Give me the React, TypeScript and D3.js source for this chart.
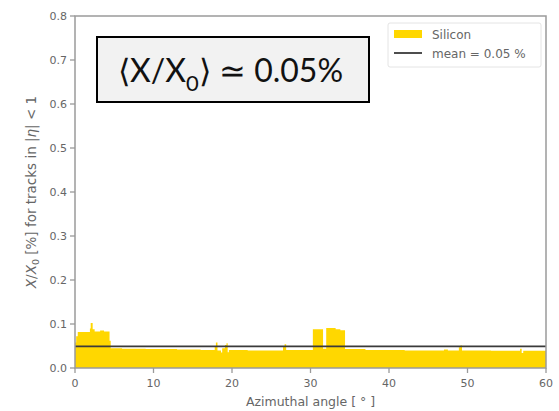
import React from "react";
import * as d3 from "d3";

// Step histogram: each value holds from its start angle to the next start angle (last ends at 60)
const binStarts = [
  0.0, 0.15, 0.35, 1.9, 2.0, 2.25, 2.5, 3.2, 3.7, 4.4, 4.55, 6.0, 9.0, 13.0, 16.0,
  17.8, 17.95, 18.15, 18.6, 18.75, 19.1, 19.3, 19.45, 19.6, 22.0, 26.5, 26.7, 26.9,
  30.3, 31.6, 32.0, 33.2, 33.8, 34.4, 37.0, 42.0, 47.0, 47.5, 48.9, 49.1, 49.3,
  53.0, 56.7, 56.9, 57.1,
];
const siliconValues = [
  0.058, 0.072, 0.082, 0.09, 0.102, 0.088, 0.083, 0.085, 0.083, 0.062, 0.045, 0.044, 0.043, 0.042, 0.041,
  0.048, 0.058, 0.04, 0.035, 0.045, 0.052, 0.056, 0.036, 0.041, 0.04, 0.048, 0.054, 0.041,
  0.088, 0.044, 0.091, 0.088, 0.086, 0.043, 0.041, 0.04, 0.042, 0.04, 0.047, 0.051, 0.04,
  0.039, 0.044, 0.034, 0.039,
];
const xMax = 60;
const meanValue = 0.049;
const xTicks = [0, 10, 20, 30, 40, 50, 60];
const yTicks = [0.0, 0.1, 0.2, 0.3, 0.4, 0.5, 0.6, 0.7, 0.8];

export default function App() {
  const W = 559, H = 411;
  const left = 75, right = 546, top = 16, bottom = 368;
  const x = d3.scaleLinear().domain([0, xMax]).range([left, right]);
  const y = d3.scaleLinear().domain([0, 0.8]).range([bottom, top]);

  const pts: [number, number][] = binStarts.map((s, i) => [s, siliconValues[i]]);
  pts.push([xMax, siliconValues[siliconValues.length - 1]]);
  const area = d3
    .area<[number, number]>()
    .x((d) => x(d[0]))
    .y0(y(0))
    .y1((d) => y(d[1]))
    .curve(d3.curveStepAfter);

  const tickColor = "#666";
  const spine = "#9a9a9a";
  const font = "DejaVu Sans, sans-serif";

  return (
    <svg width={W} height={H} style={{ position: "absolute", left: 0, top: 0, background: "#fff" }}>
      <rect x={0} y={0} width={W} height={H} fill="#fff" />
      <path d={area(pts) || ""} fill="#FFD700" />
      <line x1={x(0)} x2={x(xMax)} y1={y(meanValue)} y2={y(meanValue)} stroke="#3a3a3a" strokeWidth={1.8} />
      {/* spines */}
      <rect x={left} y={top} width={right - left} height={bottom - top} fill="none" stroke={spine} strokeWidth={1.5} />
      {/* y ticks */}
      {yTicks.map((t) => (
        <g key={"y" + t}>
          <line x1={left - 5} x2={left} y1={y(t)} y2={y(t)} stroke={spine} strokeWidth={1.3} />
          <text x={left - 8} y={y(t) + 4} textAnchor="end" fontFamily={font} fontSize={11} fill={tickColor}>
            {t.toFixed(1)}
          </text>
        </g>
      ))}
      {/* x ticks */}
      {xTicks.map((t) => (
        <g key={"x" + t}>
          <line x1={x(t)} x2={x(t)} y1={bottom} y2={bottom + 5} stroke={spine} strokeWidth={1.3} />
          <text x={x(t)} y={387} textAnchor="middle" fontFamily={font} fontSize={11} fill={tickColor}>
            {t}
          </text>
        </g>
      ))}
      <text x={(left + right) / 2} y={406} textAnchor="middle" fontFamily={font} fontSize={12.5} fill={tickColor}>
        Azimuthal angle [ ° ]
      </text>
      <text
        transform={`translate(36, ${(top + bottom) / 2}) rotate(-90)`}
        textAnchor="middle"
        fontFamily={font}
        fontSize={13.5}
        fill={tickColor}
      >
        <tspan fontStyle="italic">X</tspan>/<tspan fontStyle="italic">X</tspan>
        <tspan fontSize={9.5} dy={3}>0</tspan>
        <tspan dy={-3}> [%] for tracks in |</tspan>
        <tspan fontStyle="italic">η</tspan>| &lt; 1
      </text>
      {/* legend */}
      <rect x={388} y={23} width={153} height={44} rx={2} fill="#fff" stroke="#e4e4e4" strokeWidth={1} />
      <rect x={394} y={30} width={28} height={8} fill="#FFD700" />
      <text x={432} y={38.5} fontFamily={font} fontSize={12} fill={tickColor}>Silicon</text>
      <line x1={394} x2={422} y1={53} y2={53} stroke="#3a3a3a" strokeWidth={1.8} />
      <text x={432} y={57.5} fontFamily={font} fontSize={12} fill={tickColor}>mean = 0.05 %</text>
      {/* annotation box */}
      <rect x={97} y={37} width={272} height={65} fill="#f2f2f2" stroke="#000" strokeWidth={2} />
      <text x={118} y={82} fontFamily="Lato, Open Sans, sans-serif" fontSize={32} fill="#111">
        ⟨X/X<tspan fontSize={22} dy={9}>0</tspan>
        <tspan dy={-9}>⟩ ≃ 0.05%</tspan>
      </text>
    </svg>
  );
}
